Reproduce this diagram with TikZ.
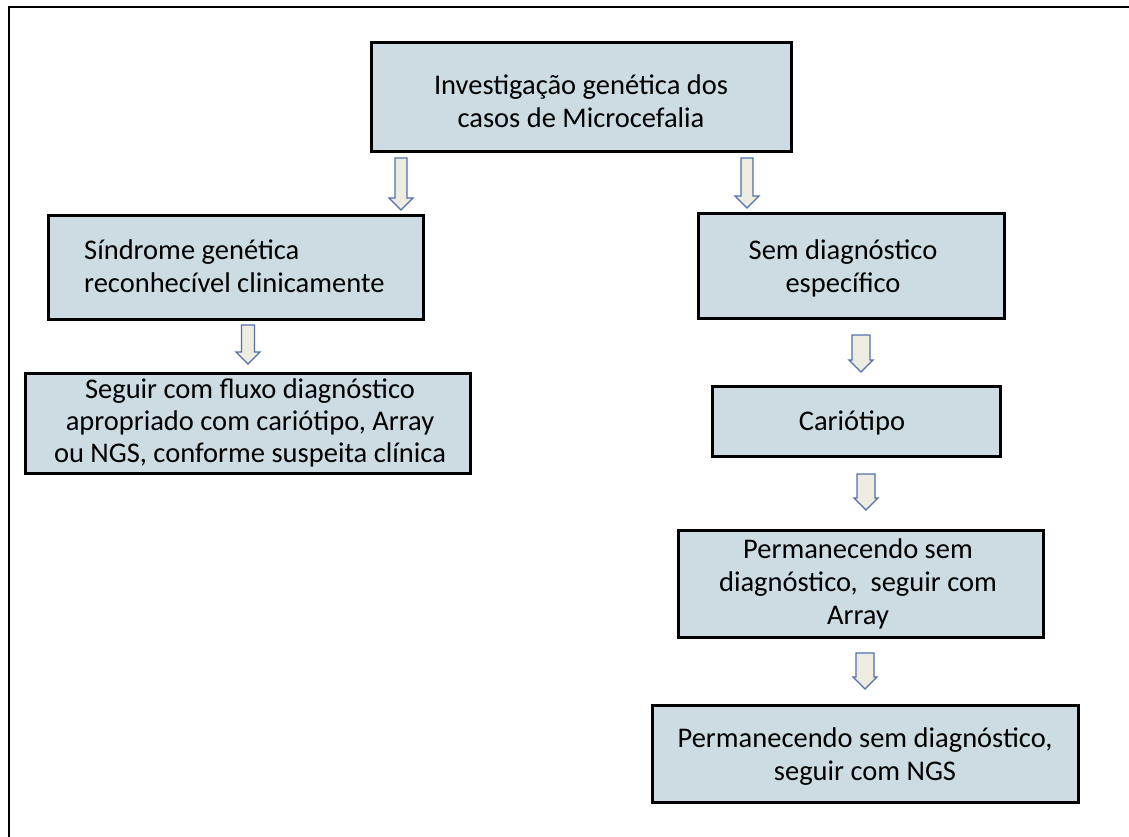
\documentclass[tikz,border=0pt]{standalone}
\usepackage{fontspec}
\setmainfont{Carlito}
\definecolor{boxfill}{RGB}{205,220,226}
\definecolor{arrowfill}{RGB}{238,236,225}
\definecolor{arrowline}{RGB}{79,112,170}
\newcommand\blockarrow[6]{% x, ytop, ybottom, shaft half width, head half width, head length
  \draw[barrow] ({#1-#4},#2) -- ({#1+#4},#2) -- ({#1+#4},{#3-#6}) -- ({#1+#5},{#3-#6})
    -- (#1,#3) -- ({#1-#5},{#3-#6}) -- ({#1-#4},{#3-#6}) -- cycle;}
\begin{document}
\begin{tikzpicture}[x=1pt,y=-1pt,
  box/.style={draw=black, line width=3pt, fill=boxfill, inner sep=0pt, rectangle},
  txt/.style={font=\fontsize{28.5}{33}\selectfont, align=center, inner sep=0pt},
  barrow/.style={draw=arrowline, fill=arrowfill, line width=1.3pt, line join=miter}]
\useasboundingbox (0,0) rectangle (1129,837);
% outer frame (runs off the page at right and bottom)
\draw[line width=2.4pt] (1140,7) -- (9,7) -- (9,850);

% boxes
\node[box, minimum width=420pt, minimum height=109pt] (top) at (581,97.5) {};
\node[txt] (toptxt) at (581,101) {Investigação genética dos\\casos de Microcefalia};

\node[box, minimum width=375pt, minimum height=104pt] (sind) at (235.5,267) {};
\node[txt, align=left, anchor=west] (sindtxt) at (84,266) {Síndrome genética\\reconhecível clinicamente};

\node[box, minimum width=306pt, minimum height=105pt] (sem) at (851,265.5) {};
\node[txt] (semtxt) at (843,268) {Sem diagnóstico\\específico};

\node[box, minimum width=445pt, minimum height=100pt] (seg) at (247.5,423) {};
\node[txt, font=\fontsize{28.5}{32}\selectfont] (segtxt) at (250,423) {Seguir com fluxo diagnóstico\\apropriado com cariótipo, Array\\ou NGS, conforme suspeita clínica};

\node[box, minimum width=288pt, minimum height=70pt] (cari) at (856,421) {};
\node[txt] (caritxt) at (852,423) {Cariótipo};

\node[box, minimum width=365pt, minimum height=107pt] (arr) at (860.5,583.5) {};
\node[txt] (arrtxt) at (858,584) {Permanecendo sem\\diagnóstico,\ \ seguir com\\Array};

\node[box, minimum width=426pt, minimum height=97pt] (ngs) at (865,753.5) {};
\node[txt] (ngstxt) at (865,757) {Permanecendo sem diagnóstico,\\seguir com NGS};

% block arrows
\blockarrow{401}{158}{210}{6}{12}{12}
\blockarrow{747}{158}{208}{6}{12}{12}
\blockarrow{248}{325}{364}{6.5}{12}{12}
\blockarrow{861}{335}{372}{9}{12}{12}
\blockarrow{866}{474}{510}{9}{12}{12}
\blockarrow{865}{653}{689}{9}{12}{12}
\end{tikzpicture}
\end{document}
